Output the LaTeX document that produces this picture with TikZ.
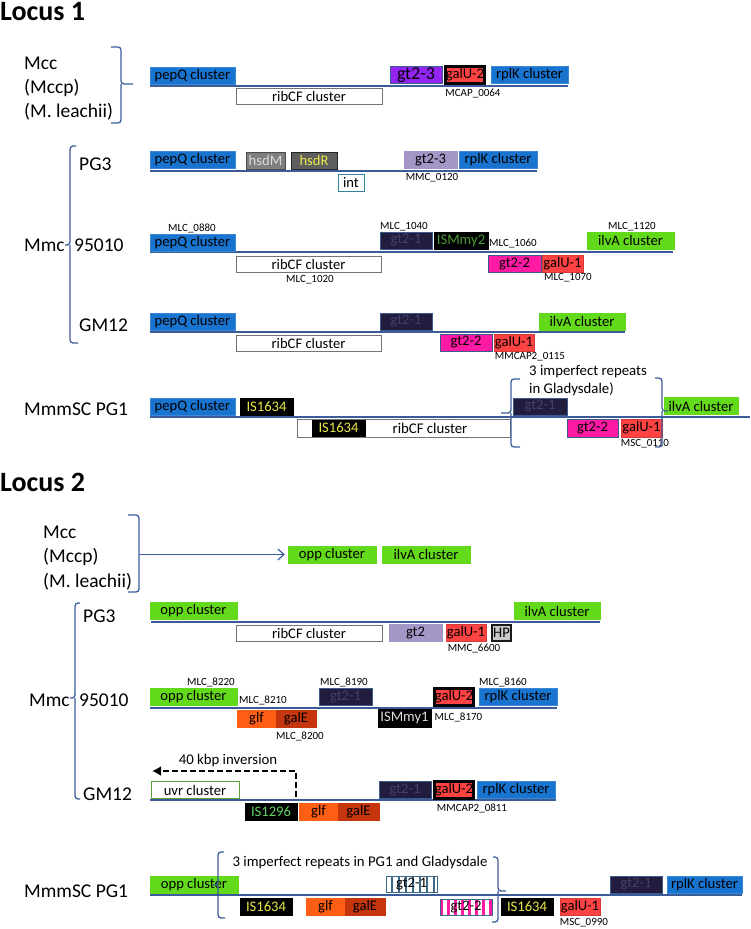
\documentclass[tikz,border=0pt]{standalone}
\usepackage{fontspec}
\setmainfont{Carlito}
\usepackage{tikz}
\usetikzlibrary{arrows.meta,patterns.meta}
\definecolor{genblue}{HTML}{1874CF}
\definecolor{gengreen}{HTML}{63D91C}
\definecolor{genred}{HTML}{FF4242}
\definecolor{gennavy}{HTML}{221C3F}
\definecolor{navytext}{HTML}{45406A}
\definecolor{navyedge}{HTML}{3A5C8C}
\definecolor{genmagenta}{HTML}{FF1AA3}
\definecolor{genviolet}{HTML}{9324F2}
\definecolor{genlilac}{HTML}{A497C7}
\definecolor{genorange}{HTML}{FF5E14}
\definecolor{genbrick}{HTML}{C5360F}
\definecolor{chrom}{HTML}{3B5C99}
\definecolor{isyellow}{HTML}{E8E84A}
\definecolor{isgreen}{HTML}{60D060}
\definecolor{ismytwo}{HTML}{4B9A35}
\definecolor{ismyone}{HTML}{DDDDDD}
\definecolor{hsdgray}{HTML}{7F7F7F}
\definecolor{hsdrfill}{HTML}{5E5E5E}
\definecolor{intedge}{HTML}{31849B}
\definecolor{uvredge}{HTML}{5A9E3C}
\definecolor{hpgray}{HTML}{C8C8C8}
\definecolor{stripeedge}{HTML}{3E6A8A}

\begin{document}
\begin{tikzpicture}[
  x=1pt,y=-1pt,>=Latex,
  gene/.style={draw,inner sep=0pt,minimum height=17pt,font={\fontsize{14.6}{17}\selectfont}},
  bluegene/.style={gene,fill=genblue,draw=genblue!85!white},
  greengene/.style={gene,fill=gengreen,draw=gengreen},
  redgene/.style={gene,fill=genred,draw=genred!85!black},
  galtwo/.style={gene,fill=genred,draw=black!85!gennavy,line width=2.5pt,minimum width=39pt},
  navygene/.style={gene,fill=gennavy,draw=navyedge,text=navytext},
  magentagene/.style={gene,fill=genmagenta,draw=navyedge},
  violetgene/.style={gene,fill=genviolet,draw=navyedge},
  lilacgene/.style={gene,fill=genlilac,draw=genlilac},
  whitegene/.style={gene,fill=white,draw=black!55,line width=1pt,minimum height=16pt},
  isgene/.style={gene,fill=black,draw=black,text=isyellow},
  orangegene/.style={gene,fill=genorange,draw=genorange},
  brickgene/.style={gene,fill=genbrick,draw=genbrick},
  lbl/.style={inner sep=0pt,anchor=base west,font={\fontsize{19.5}{23}\selectfont}},
  head/.style={inner sep=0pt,anchor=base west,font={\fontsize{28}{32}\selectfont\bfseries}},
  tag/.style={inner sep=0pt,font={\fontsize{11}{13}\selectfont}},
  txt/.style={inner sep=0pt,font={\fontsize{14.8}{18}\selectfont}},
  chromline/.style={draw=chrom,line width=1.6pt},
  brace/.style={draw=chrom,line width=1.3pt,rounded corners=3pt}
]
\useasboundingbox (0,0) rectangle (750,929);

\node[head] (locA) at (0,20) {Locus 1};
\node[lbl] (mccA) at (24,69) {Mcc};
\node[lbl] (mccpA) at (24,93) {(Mccp)};
\node[lbl] (leaA) at (24,117) {(M. leachii)};
\node[lbl] (pgA) at (79,170) {PG3};
\node[lbl] (mmcA) at (24,251) {Mmc};
\node[lbl] (nfA) at (74,251) {95010};
\node[lbl] (gmA) at (79,331) {GM12};
\node[lbl] (scA) at (24,415) {MmmSC PG1};

\draw[chromline] (150,86) -- (568,86);
\draw[chromline] (150,171) -- (537,171);
\draw[chromline] (150,252) -- (673,252);
\draw[chromline] (150,332) -- (625,332);
\draw[chromline] (150,417) -- (750,417);

\node[bluegene,minimum width=85] (apep1) at (192.5,75.5) {pepQ cluster};
\node[whitegene,minimum width=146] (arib1) at (309,96) {ribCF cluster};
\node[violetgene,minimum width=52,font={\fontsize{18}{20}\selectfont}] (agt1) at (416,75) {gt2-3};
\node[galtwo] (agal1) at (465,75) {galU-2};
\node[bluegene,minimum width=77] (arpl1) at (529.5,75) {rplK cluster};
\node[tag] (atag1) at (473,94) {MCAP\_0064};

\node[bluegene,minimum width=85] (apep2) at (192.5,160) {pepQ cluster};
\node[gene,fill=hsdgray,draw=black!70,text=ismyone,minimum width=39] (ahsdm) at (265.5,160.5) {hsdM};
\node[gene,fill=hsdrfill,draw=black!85,text=isyellow,minimum width=46] (ahsdr) at (314,160.5) {hsdR};
\node[gene,draw=intedge,line width=1pt,minimum width=26] (aint) at (351,182.5) {int};
\node[lilacgene,minimum width=53] (agt2) at (430.5,160) {gt2-3};
\node[bluegene,minimum width=78] (arpl2) at (498,160) {rplK cluster};
\node[tag] (atag2) at (432,178) {MMC\_0120};

\node[tag] (atag3) at (192,228) {MLC\_0880};
\node[bluegene,minimum width=85] (apep3) at (192.5,242.5) {pepQ cluster};
\node[whitegene,minimum width=145] (arib3) at (308.5,264) {ribCF cluster};
\node[tag] (atag4) at (310,280) {MLC\_1020};
\node[tag] (atag5) at (404,227) {MLC\_1040};
\node[navygene,minimum width=52] (agt3) at (406,240.5) {gt2-1};
\node[isgene,text=ismytwo,minimum width=54] (aism) at (461,240.5) {ISMmy2};
\node[tag] (atag6) at (513,244) {MLC\_1060};
\node[magentagene,minimum width=53] (agt4) at (514.5,264) {gt2-2};
\node[redgene,minimum width=41] (agal3) at (562.5,264) {galU-1};
\node[tag] (atag7) at (568,278) {MLC\_1070};
\node[tag] (atag8) at (632,227) {MLC\_1120};
\node[greengene,minimum width=87] (ailv3) at (630.5,240.5) {ilvA cluster};

\node[bluegene,minimum width=85] (apep4) at (192.5,321.5) {pepQ cluster};
\node[navygene,minimum width=52] (agt5) at (406,321.5) {gt2-1};
\node[greengene,minimum width=86] (ailv4) at (582,321.5) {ilvA cluster};
\node[whitegene,minimum width=145] (arib4) at (308.5,343) {ribCF cluster};
\node[magentagene,minimum width=52] (agt6) at (466,342.5) {gt2-2};
\node[redgene,minimum width=40] (agal4) at (514,342.5) {galU-1};
\node[tag] (atag9) at (530,357) {MMCAP2\_0115};

\node[bluegene,minimum width=85] (apep5) at (192.5,407) {pepQ cluster};
\node[isgene,minimum width=53] (ais5) at (266.5,407) {IS1634};
\node[whitegene,minimum width=213,minimum height=18] (arib5) at (403.5,428) {};
\node[isgene,minimum width=53,minimum height=16] (ais6) at (338.5,428) {IS1634};
\node[txt] (aribtxt) at (430,428) {ribCF cluster};
\node[navygene,minimum width=54] (agt7) at (540,406.5) {gt2-1};
\node[greengene,minimum width=74] (ailv5) at (701,406) {ilvA cluster};
\node[magentagene,minimum width=51,minimum height=18] (agt8) at (592.5,428) {gt2-2};
\node[redgene,minimum width=41,minimum height=18] (agal5) at (641.5,428) {galU-1};
\node[tag] (atag10) at (645,444) {MSC\_0110};
\node[txt,anchor=north west,align=left] (arep) at (529,365) {3 imperfect repeats\\in Gladysdale)};

\draw[brace] (111,47) -| (121,84) -- (133,84);
\draw[brace] (111,123) -| (121,84);
\draw[brace] (76,146) -| (70,245) -- (65,245);
\draw[brace] (78,343) -| (70,245);
\draw[brace] (520,379) -| (511,413) -- (501,413);
\draw[brace] (520,447) -| (511,413);
\draw[brace] (655,378) -| (662,411) -- (668,411);
\draw[brace] (655,447) -| (662,411);

\node[head] (locB) at (0,491) {Locus 2};
\node[lbl] (mccB) at (43,538) {Mcc};
\node[lbl] (mccpB) at (43,562.5) {(Mccp)};
\node[lbl] (leaB) at (43,587) {(M. leachii)};
\node[lbl] (pgB) at (83,622) {PG3};
\node[lbl] (mmcB) at (29,706.5) {Mmc};
\node[lbl] (nfB) at (79,706.5) {95010};
\node[lbl] (gmB) at (83,800) {GM12};
\node[lbl] (scB) at (24,897) {MmmSC PG1};

\draw[chromline] (151,622) -- (600,622);
\draw[chromline] (150,708) -- (557,708);
\draw[chromline] (150,800) -- (556,800);
\draw[chromline] (150,895) -- (742,895);

\node[greengene,minimum width=88] (bopp1) at (332,554.5) {opp cluster};
\node[greengene,minimum width=88] (bilv1) at (426,554.5) {ilvA cluster};
\draw[brace] (128,515) -| (139,554.5);
\draw[brace] (128,592) -| (139,554.5);
\coordinate (bpt) at (139,554.5);
\draw[->,>={Straight Barb[length=6pt,width=11pt]},draw=chrom,line width=1.2pt,shorten >=3pt] (bpt) -- (bopp1);

\node[greengene,minimum width=87] (bopp2) at (193.5,610.5) {opp cluster};
\node[greengene,minimum width=86] (bilv2) at (557,611) {ilvA cluster};
\node[whitegene,minimum width=146] (brib2) at (309,633) {ribCF cluster};
\node[lilacgene,minimum width=53] (bgt2) at (415.5,633) {gt2};
\node[redgene,minimum width=40] (bgal2) at (466,633) {galU-1};
\node[gene,fill=hpgray,draw=black!90,line width=2pt,minimum width=19,minimum height=16] (bhp) at (501.5,633) {HP};
\node[tag] (btag1) at (474,649) {MMC\_6600};

\node[tag] (btag2) at (211,682) {MLC\_8220};
\node[greengene,minimum width=87] (bopp3) at (193.5,697) {opp cluster};
\node[tag] (btag3) at (263,700) {MLC\_8210};
\node[orangegene,minimum width=39] (bglf3) at (256.5,718.5) {glf};
\node[brickgene,minimum width=40] (bgale3) at (296,718.5) {galE};
\node[tag] (btag4) at (300,736) {MLC\_8200};
\node[tag] (btag5) at (344,682) {MLC\_8190};
\node[navygene,minimum width=53] (bgt3) at (345.5,697) {gt2-1};
\node[isgene,text=ismyone,minimum width=53,minimum height=18] (bism) at (404.5,718) {ISMmy1};
\node[galtwo] (bgal3) at (454,697) {galU-2};
\node[tag] (btag6) at (458.5,717) {MLC\_8170};
\node[tag] (btag7) at (503,682) {MLC\_8160};
\node[bluegene,minimum width=78] (brpl3) at (518,697) {rplK cluster};

\node[gene,draw=uvredge,line width=1pt,minimum width=88] (buvr) at (195,790) {uvr cluster};
\node[txt] (binv) at (228,761) {40 kbp inversion};
\node[isgene,text=isgreen,minimum width=52] (bis4) at (271,811.5) {IS1296};
\node[orangegene,minimum width=39] (bglf4) at (318.5,811.5) {glf};
\node[brickgene,minimum width=41] (bgale4) at (358.5,811.5) {galE};
\node[navygene,minimum width=52] (bgt4) at (405,790) {gt2-1};
\node[galtwo] (bgal4) at (454,790) {galU-2};
\node[bluegene,minimum width=78] (brpl4) at (516,790) {rplK cluster};
\node[tag] (btag8) at (472,808) {MMCAP2\_0811};
\coordinate (binvend) at (152,771);
\draw[line width=2.2pt,dash pattern=on 6pt off 3pt,-{Latex[length=9pt,width=10pt]}] ([xshift=-1pt,yshift=6pt]bis4.north east) |- (binvend);

\node[greengene,minimum width=88] (bopp5) at (194,884.5) {opp cluster};
\node[txt] (brep) at (360,863) {3 imperfect repeats in PG1 and Gladysdale};
\node[isgene,minimum width=52] (bis5) at (266,906.5) {IS1634};
\node[orangegene,minimum width=39] (bglf5) at (325.5,906.5) {glf};
\node[brickgene,minimum width=40] (bgale5) at (365,906.5) {galE};
\node[gene,draw=stripeedge,pattern={Lines[angle=90,distance=7pt,line width=1.3pt]},pattern color=stripeedge,minimum width=51,minimum height=16] (bgt5) at (411.5,884) {gt2-1};
\node[gene,draw=stripeedge,pattern={Lines[angle=90,distance=7pt,line width=3pt]},pattern color=genmagenta,minimum width=52,minimum height=16] (bgt6) at (466,907) {gt2-2};
\node[isgene,minimum width=52] (bis6) at (527,906.5) {IS1634};
\node[redgene,minimum width=40] (bgal5) at (580,906.5) {galU-1};
\node[tag] (btag9) at (584,923) {MSC\_0990};
\node[navygene,minimum width=52] (bgt7) at (636,884.5) {gt2-1};
\node[bluegene,minimum width=75] (brpl5) at (704.5,884.5) {rplK cluster};

\draw[brace] (80,603) -| (75,698) -- (70,698);
\draw[brace] (80,799) -| (75,698);
\draw[brace] (224,852) -| (218,885) -- (213,885);
\draw[brace] (225,918) -| (218,885);
\draw[brace] (493,857) -| (498,891) -- (506,891);
\draw[brace] (492,922) -| (498,891);
\end{tikzpicture}
\end{document}
